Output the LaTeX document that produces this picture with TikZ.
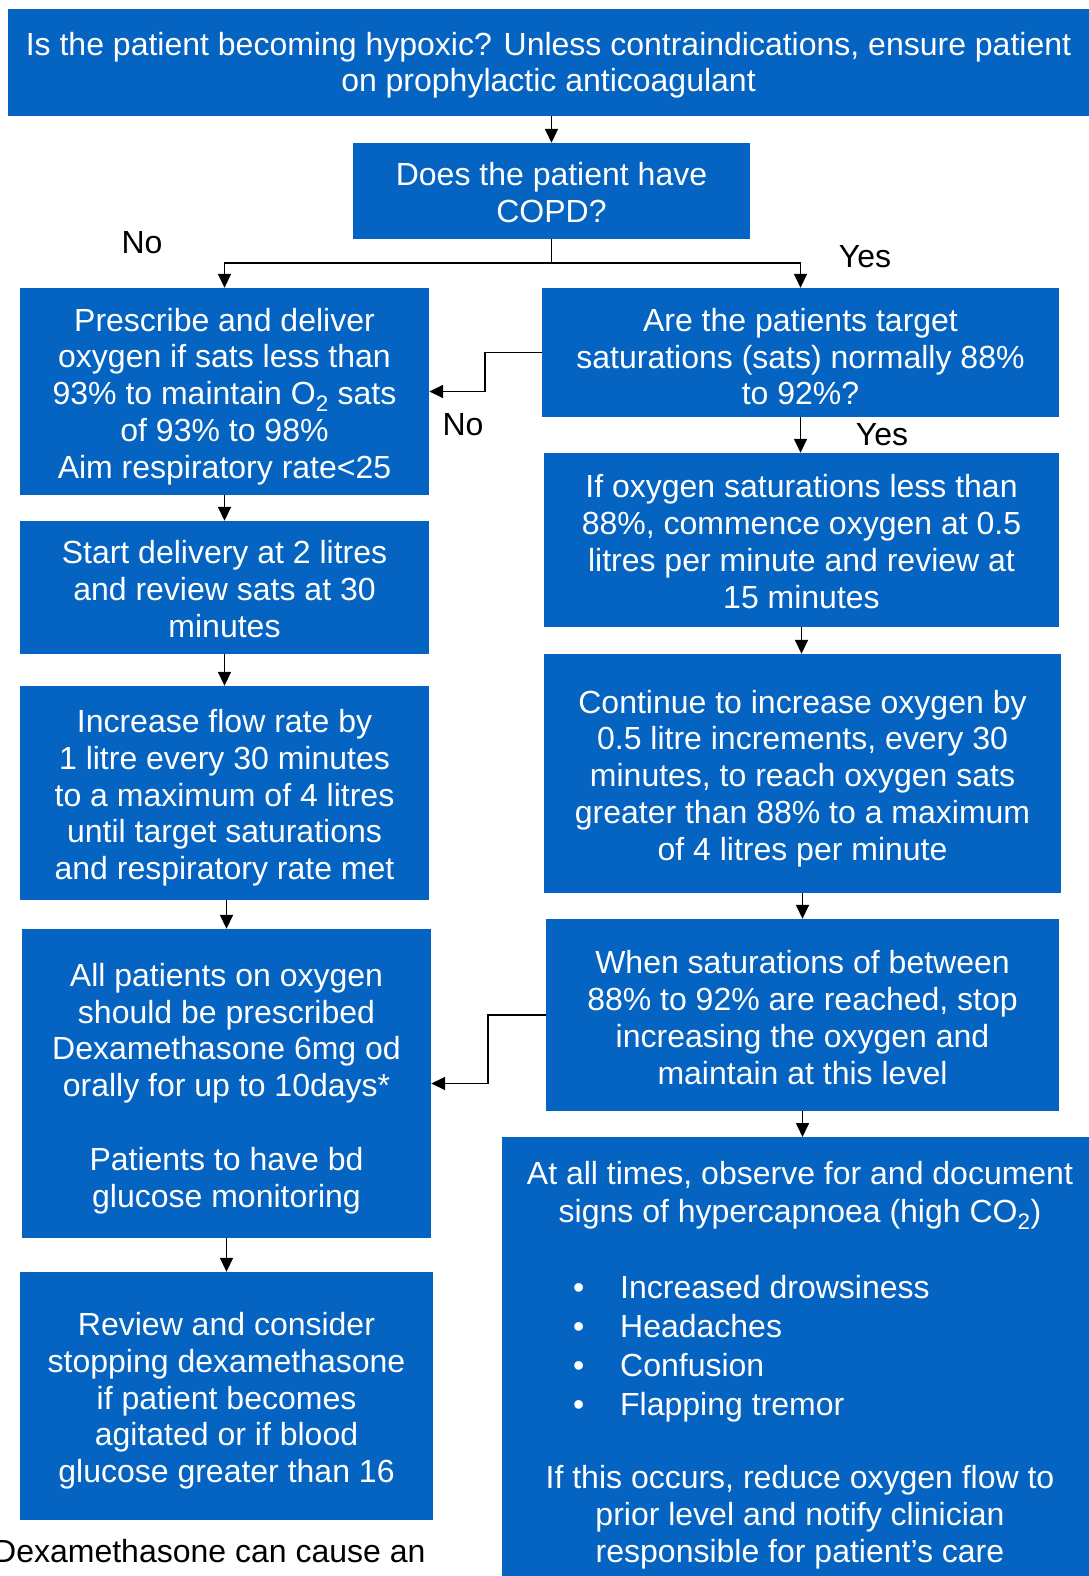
\documentclass[tikz,border=0pt]{standalone}
\usepackage{fontspec}
\setmainfont{Liberation Sans}
\usetikzlibrary{arrows.meta}
\definecolor{boxblue}{RGB}{5,99,193}
\newcommand{\bfsz}{\fontsize{32}{36.8}\selectfont}
\newcommand{\hfsz}{\fontsize{32}{38.3}\selectfont}
\newcommand{\lfsz}{\fontsize{32}{39}\selectfont}
\newcommand{\ffsz}{\fontsize{32}{37}\selectfont}
\newcommand{\tstr}{\rule[-6.8pt]{0pt}{35.8pt}}
\newcommand{\bstr}{\rule[-6.8pt]{0pt}{39.8pt}}
\newcommand{\bitem}{\makebox[47pt][l]{•}}
\tikzset{
  flowbox/.style={fill=boxblue, text=white, align=center, inner sep=0pt, font=\bfsz},
  boxtext/.style={text=white, inner sep=0pt},
  lbl/.style={text=black, inner sep=0pt, font=\bfsz},
  arr/.style={draw=black, line width=1.6pt, -{Triangle[length=14pt,width=13pt]}},
}
\begin{document}
\begin{tikzpicture}[x=1pt,y=-1pt]
\useasboundingbox (0,0) rectangle (1089,1576);

\node[flowbox, minimum width=1081pt, minimum height=107pt] (top) at (548.5,62.5)
 {\tstr Is the patient becoming hypoxic? Unless contraindications, ensure patient\\\tstr on prophylactic anticoagulant};
\node[flowbox, minimum width=397pt, minimum height=96pt] (q) at (551.5,191)
 {\bstr Does the patient have\\\tstr COPD?};

\node[flowbox, minimum width=409pt, minimum height=207pt] (l1) at (224.5,391.5)
 {\bstr Prescribe and deliver\\oxygen if sats less than\\93\% to maintain O\textsubscript{2} sats\\of 93\% to 98\%\\\tstr Aim respiratory rate<25};
\node[flowbox, minimum width=409pt, minimum height=133pt] (l2) at (224.5,587.5)
 {\bstr Start delivery at 2 litres\\and review sats at 30\\\tstr minutes};
\node[flowbox, minimum width=409pt, minimum height=214pt] (l3) at (224.5,793)
 {\bstr Increase flow rate by\\1 litre every 30 minutes\\to a maximum of 4 litres\\until target saturations\\\tstr and respiratory rate met};
\node[flowbox, minimum width=409pt, minimum height=309pt] (l4) at (226.5,1083.5)
 {\bstr All patients on oxygen\\should be prescribed\\Dexamethasone 6mg od\\orally for up to 10days*\\[36.8pt]Patients to have bd\\\tstr glucose monitoring};
\node[flowbox, minimum width=413pt, minimum height=248pt] (l5) at (226.5,1396)
 {\bstr Review and consider\\stopping dexamethasone\\if patient becomes\\agitated or if blood\\\tstr glucose greater than 16};

\node[flowbox, minimum width=517pt, minimum height=129pt] (r1) at (800.5,352.5)
 {\rule[-6.8pt]{0pt}{44.8pt}Are the patients target\\saturations (sats) normally 88\%\\\tstr to 92\%?};
\node[flowbox, minimum width=515pt, minimum height=174pt] (r2) at (801.5,540)
 {\bstr If oxygen saturations less than\\88\%, commence oxygen at 0.5\\litres per minute and review at\\\tstr 15 minutes};
\node[flowbox, minimum width=517pt, minimum height=239pt] (r3) at (802.5,773.5)
 {\bstr Continue to increase oxygen by\\0.5 litre increments, every 30\\minutes, to reach oxygen sats\\greater than 88\% to a maximum\\\tstr of 4 litres per minute};
\node[flowbox, minimum width=513pt, minimum height=192pt] (r4) at (802.5,1015)
 {\rule[-6.8pt]{0pt}{41.8pt}When saturations of between\\88\% to 92\% are reached, stop\\increasing the oxygen and\\\tstr maintain at this level};
\node[flowbox, minimum width=600pt, minimum height=460pt, anchor=north west] (r5) at (502,1137) {};
\node[boxtext, align=center, font=\hfsz] (r5head) at (800,1192.5)
 {\tstr At all times, observe for and document\\\tstr signs of hypercapnoea (high CO\textsubscript{2})};
\node[boxtext, align=left, anchor=west, font=\lfsz] (r5list) at (573,1345.5)
 {\tstr\bitem Increased drowsiness\\\bitem Headaches\\\bitem Confusion\\\tstr\bitem Flapping tremor};
\node[boxtext, align=center, font=\ffsz] (r5foot) at (800,1514)
 {\tstr If this occurs, reduce oxygen flow to\\prior level and notify clinician\\\tstr responsible for patient’s care};

\node[lbl] (nolbl1) at (142,243) {No};
\node[lbl] (yeslbl1) at (865,257) {Yes};
\node[lbl] (nolbl2) at (463,425) {No};
\node[lbl] (yeslbl2) at (882,435) {Yes};

\node[lbl, anchor=base west] (foot) at (-7,1562) {Dexamethasone can cause an};

\draw[arr] (top.south -| q.north) -- (q.north);
\draw[arr] (q.south) -- ++(0,24) -| (l1.north);
\draw[arr] (q.south) -- ++(0,24) -| (r1.north);
\draw[arr] (r1.west) -- ++(-57,0) |- (l1.east);
\draw[arr] (r1.south) -- (r1.south |- r2.north);
\draw[arr] (r2.south) -- (r2.south |- r3.north);
\draw[arr] (r3.south) -- (r3.south |- r4.north);
\draw[arr] (r4.south) -- (r4.south |- r5.north);
\draw[arr] (r4.west) -- ++(-58,0) |- (l4.east);
\draw[arr] (l1.south) -- (l2.north);
\draw[arr] (l2.south) -- (l2.south |- l3.north);
\draw[arr] (l3.south -| l4.north) -- (l4.north);
\draw[arr] (l4.south) -- (l4.south |- l5.north);
\end{tikzpicture}
\end{document}
